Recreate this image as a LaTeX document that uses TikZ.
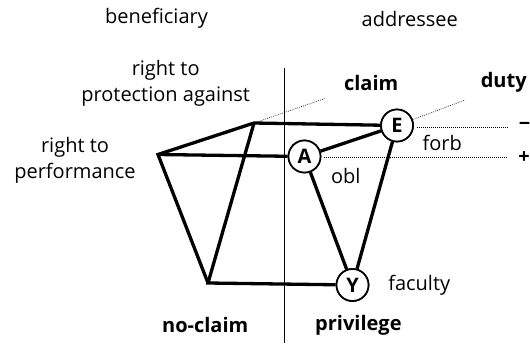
\documentclass[tikz,border=0pt]{standalone}
\usepackage{fontspec}
\setmainfont{Open Sans}
\begin{document}
\begin{tikzpicture}[x=1pt,y=-1pt,
  every node/.style={font=\fontsize{20}{26}\selectfont, inner sep=0pt},
  edge/.style={line width=3.3pt, line join=miter},
  dotline/.style={line width=0.7pt, dash pattern=on 0.7pt off 1.3pt},
  state/.style={circle, draw, fill=white, line width=1.7pt, minimum size=32pt, font=\fontsize{20}{26}\selectfont\bfseries},
  lbl/.style={align=center},
  blbl/.style={font=\fontsize{20}{26}\selectfont\bfseries}]
\useasboundingbox (0,0) rectangle (530,343);
% coordinates
\coordinate (R) at (158,154.5);
\coordinate (P) at (254,123);
\coordinate (N) at (208,283);
\node[state] (A) at (304.5,156.5) {};
\node[state] (E) at (397,125.5) {};
\node[state] (Y) at (352.5,285) {};
\coordinate (Pd) at (325,98.5);
\coordinate (Ed) at (465,100);
\coordinate (Eh) at (507,127.5);
\coordinate (Ah) at (507,157.5);
% divider
\coordinate (Vt) at (284,67.5);
\coordinate (Vb) at (284,343);
\draw[line width=1pt] (Vt) -- (Vb);
% dotted
\draw[dotline] (P) -- (Pd);
\draw[dotline] (E) -- (Ed);
\draw[dotline] (E.east |- Eh) ++(3,0) -- (Eh);
\draw[dotline] (A.east |- Ah) ++(3,0) -- (Ah);
% edges
\draw[edge] (N) -- (R) -- (P) -- (E);
\draw[edge] (P) -- (N) -- (Y);
\draw[edge] (R) -- (A);
\draw[edge] (A) -- (E);
\draw[edge] (A) -- (Y);
\draw[edge] (E) -- (Y);
% circles on top
\node[state] at (A) {A};
\node[state] at (E) {E};
\node[state] at (Y) {Y};
% labels
\node (ben) at (156.5,18.6) {beneficiary};
\node (add) at (409.7,18.6) {addressee};
\node[lbl] (rp) at (165.7,83.3) {right to\\protection against};
\node[lbl] (rperf) at (75,159.9) {right to\\performance};
\node[blbl] (claim) at (371.2,82.8) {claim};
\node[blbl] (duty) at (503.7,82.8) {duty};
\node[blbl] (minus) at (524.7,126.8) {−};
\node[blbl] (plus) at (524,157.2) {+};
\node (forb) at (442.2,142.7) {forb};
\node (obl) at (345.8,175.8) {obl};
\node (fac) at (419.2,285.7) {faculty};
\node[blbl] (nocl) at (205.2,325.2) {no-claim};
\node[blbl] (priv) at (358.4,325.2) {privilege};
\end{tikzpicture}
\end{document}
